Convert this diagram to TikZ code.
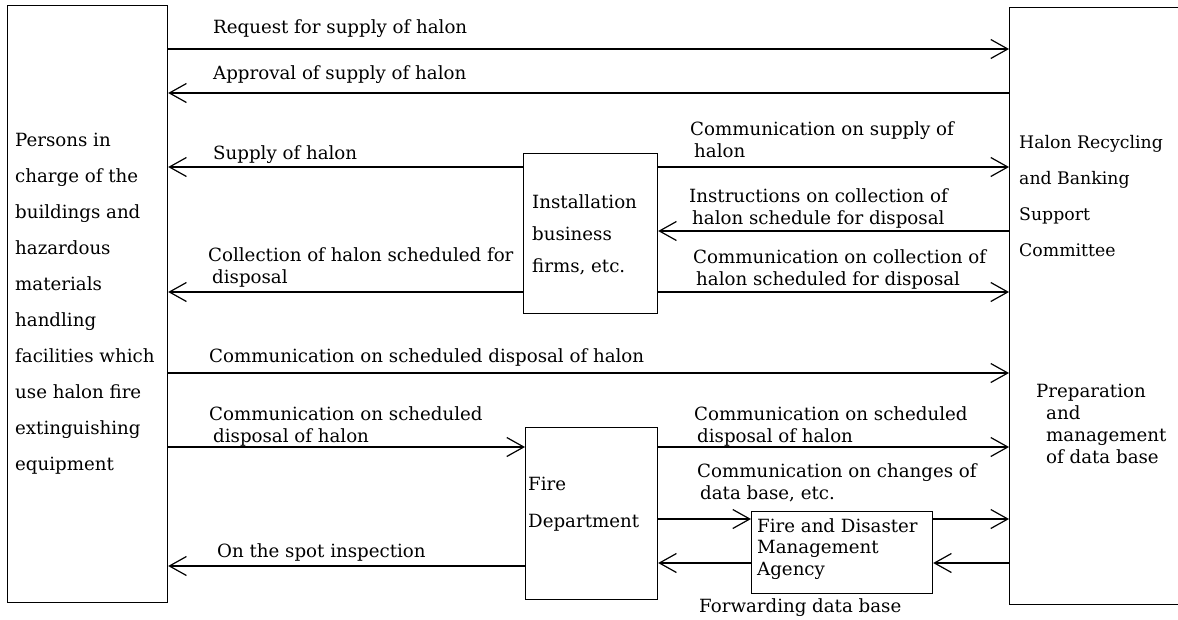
\documentclass[tikz,border=0pt]{standalone}
\usepackage{fontspec}
\setmainfont{DejaVu Serif}
\usetikzlibrary{arrows.meta}
\tikzset{
  blk/.style={draw,line width=1.2pt,anchor=north west,inner sep=0pt},
  flow/.style={line width=1.2pt,-{Straight Barb[length=17pt,width=19pt,line width=1.2pt]}},
  txt/.style={anchor=base west,inner sep=0pt,align=left,font=\fontsize{18.2}{22}\selectfont},
}
\begin{document}
\begin{tikzpicture}[x=1pt,y=-1pt]
\clip (0,0) rectangle (1178,619);
% boxes
\node[blk,minimum width=160pt,minimum height=597pt] (persons) at (7,5) {};
\node[blk,minimum width=134pt,minimum height=160pt] (install) at (523,153) {};
\node[blk,minimum width=132pt,minimum height=172pt] (firedept) at (525,427) {};
\node[blk,minimum width=181pt,minimum height=82pt] (fdma) at (751,511) {};
\node[blk,minimum width=300pt,minimum height=597pt] (committee) at (1009,7) {};
% box texts (base = last line)
\node[txt,font=\fontsize{18.2}{36}\selectfont] (personstxt) at (15,470)
  {Persons in\\charge of the\\buildings and\\hazardous\\materials\\handling\\facilities which\\use halon fire\\extinguishing\\equipment};
\node[txt,font=\fontsize{18.2}{32}\selectfont] (installtxt) at (532,272) {Installation\\business\\firms, etc.};
\node[txt,font=\fontsize{18.2}{37}\selectfont] (firetxt) at (528,527) {Fire\\Department};
\node[txt,font=\fontsize{18.2}{21.5}\selectfont] (fdmatxt) at (757,575) {Fire and Disaster\\Management\\Agency};
\node[txt,font=\fontsize{17.3}{36}\selectfont] (committeetxt) at (1019,256) {Halon Recycling\\and Banking\\Support\\Committee};
\node[txt] (dbtxt) at (1036,463) {Preparation\\\hspace*{10pt}and\\\hspace*{10pt}management\\\hspace*{10pt}of data base};
% flows
\draw[flow] (persons.east |- 0,49) -- (committee.west |- 0,49);
\node[txt] (request) at (213,33) {Request for supply of halon};
\draw[flow] (committee.west |- 0,93) -- (persons.east |- 0,93);
\node[txt] (approval) at (213,79) {Approval of supply of halon};
\draw[flow] (install.west |- 0,167) -- (persons.east |- 0,167);
\node[txt] (supply) at (213,159) {Supply of halon};
\draw[flow] (install.east |- 0,167) -- (committee.west |- 0,167);
\node[txt] (supplycom) at (690,157) {Communication on supply of\\\hspace*{4pt}halon};
\draw[flow] (committee.west |- 0,231) -- (install.east |- 0,231);
\node[txt] (instr) at (689,224) {Instructions on collection of\\\hspace*{3pt}halon schedule for disposal};
\draw[flow] (install.east |- 0,292) -- (committee.west |- 0,292);
\node[txt] (collcom) at (693,285) {Communication on collection of\\\hspace*{3pt}halon scheduled for disposal};
\draw[flow] (install.west |- 0,292) -- (persons.east |- 0,292);
\node[txt] (coll) at (208,283) {Collection of halon scheduled for\\\hspace*{4pt}disposal};
\draw[flow] (persons.east |- 0,373) -- (committee.west |- 0,373);
\node[txt] (schedall) at (209,362) {Communication on scheduled disposal of halon};
\draw[flow] (persons.east |- 0,447) -- (firedept.west |- 0,447);
\node[txt] (schedfire) at (209,442) {Communication on scheduled\\\hspace*{4pt}disposal of halon};
\draw[flow] (firedept.east |- 0,447) -- (committee.west |- 0,447);
\node[txt] (schedcom) at (694,442) {Communication on scheduled\\\hspace*{3pt}disposal of halon};
\draw[flow] (firedept.east |- 0,519) -- (fdma.west |- 0,519);
\draw[flow] (fdma.east |- 0,519) -- (committee.west |- 0,519);
\node[txt] (changes) at (697,499) {Communication on changes of\\\hspace*{3pt}data base, etc.};
\draw[flow] (committee.west |- 0,563) -- (fdma.east |- 0,563);
\draw[flow] (fdma.west |- 0,563) -- (firedept.east |- 0,563);
\node[txt] (forward) at (699,612) {Forwarding data base};
\draw[flow] (firedept.west |- 0,566) -- (persons.east |- 0,566);
\node[txt] (inspect) at (217,557) {On the spot inspection};
\end{tikzpicture}
\end{document}
